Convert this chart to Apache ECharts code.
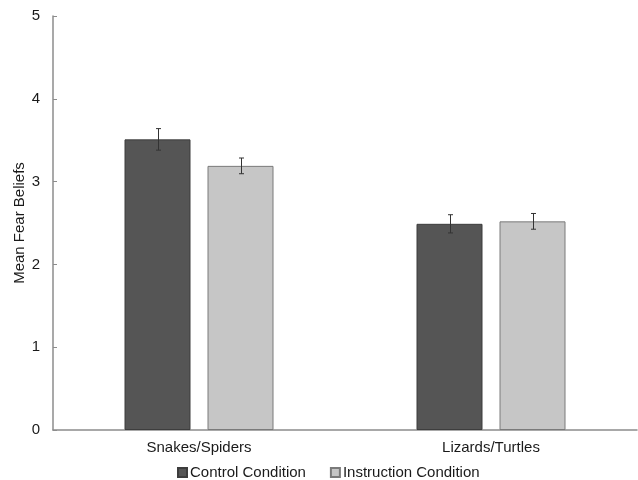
<!DOCTYPE html>
<html>
<head>
<meta charset="utf-8">
<script src="https://cdn.jsdelivr.net/npm/echarts@6/dist/echarts.min.js"></script>
<style>
  html, body { margin: 0; padding: 0; background: #fff; }
  #chart { width: 638px; height: 480px; }
</style>
</head>
<body>
<div id="chart"></div>
<script>
// Mean fear beliefs by animal category and condition (± SE)
const categories = ['Snakes/Spiders', 'Lizards/Turtles'];
const yTicks = [0, 1, 2, 3, 4, 5];
const controlMeans = [3.51, 2.49];
const controlErr = [0.13, 0.11];
const instructionMeans = [3.19, 2.52];
const instructionErr = [0.095, 0.095];

const BAR_W = 66;
const BAR_GAP = 17;

const chart = echarts.init(document.getElementById('chart'));

// error bar renderer: offset follows the bar layout (bar width + gap)
function errorSeries(name, means, errs, side) {
  const data = means.map((m, i) => [i, m - errs[i], m + errs[i]]);
  return {
    type: 'custom',
    name: name + ' err',
    silent: true,
    z: 10,
    data: data,
    encode: { x: 0, y: [1, 2] },
    renderItem: function (params, api) {
      const c = api.value(0);
      const lo = api.coord([c, api.value(1)]);
      const hi = api.coord([c, api.value(2)]);
      const x = Math.round(lo[0] + side * (BAR_W + BAR_GAP) / 2) + 0.5;
      const cap = 2.5;
      const style = { stroke: '#333', lineWidth: 1, fill: null };
      return {
        type: 'group',
        children: [
          { type: 'line', shape: { x1: x, y1: hi[1], x2: x, y2: lo[1] }, style: style },
          { type: 'line', shape: { x1: x - cap, y1: hi[1], x2: x + cap, y2: hi[1] }, style: style },
          { type: 'line', shape: { x1: x - cap, y1: lo[1], x2: x + cap, y2: lo[1] }, style: style }
        ]
      };
    }
  };
}

const font = 'Liberation Sans, Arial, sans-serif';

chart.setOption({
  animation: false,
  textStyle: { fontFamily: font },
  grid: { left: 53, right: 1, top: 16, bottom: 50 },
  legend: {
    data: ['Control Condition', 'Instruction Condition'],
    top: 460,
    left: 172,
    itemWidth: 9,
    itemHeight: 9,
    itemGap: 24,
    icon: 'rect',
    textStyle: { fontSize: 15, color: '#1a1a1a', fontFamily: font, padding: [0, 0, 0, -2] }
  },
  xAxis: {
    type: 'category',
    data: categories,
    axisLine: { lineStyle: { color: '#8c8c8c', width: 1.5 } },
    axisTick: { show: false },
    axisLabel: { fontSize: 15, color: '#1a1a1a', margin: 10, fontFamily: font }
  },
  yAxis: {
    type: 'value',
    min: yTicks[0],
    max: yTicks[yTicks.length - 1],
    interval: 1,
    name: 'Mean Fear Beliefs',
    nameLocation: 'middle',
    nameGap: 26,
    nameRotate: 90,
    nameMoveOverlap: false,
    nameTextStyle: { fontSize: 15, color: '#1a1a1a', fontFamily: font },
    axisLine: { show: true, lineStyle: { color: '#8c8c8c', width: 1.5 } },
    axisTick: { show: true, inside: true, length: 4, lineStyle: { color: '#8c8c8c' } },
    splitLine: { show: false },
    axisLabel: { fontSize: 15, color: '#1a1a1a', margin: 13, fontFamily: font }
  },
  series: [
    {
      name: 'Control Condition',
      type: 'bar',
      data: controlMeans,
      barWidth: BAR_W,
      barGap: (BAR_GAP / BAR_W * 100) + '%',
      itemStyle: { color: '#555555', borderColor: '#3d3d3d', borderWidth: 1 }
    },
    {
      name: 'Instruction Condition',
      type: 'bar',
      data: instructionMeans,
      barWidth: BAR_W,
      itemStyle: { color: '#c6c6c6', borderColor: '#7a7a7a', borderWidth: 1 }
    },
    errorSeries('Control Condition', controlMeans, controlErr, -1),
    errorSeries('Instruction Condition', instructionMeans, instructionErr, 1)
  ]
});
</script>
</body>
</html>
